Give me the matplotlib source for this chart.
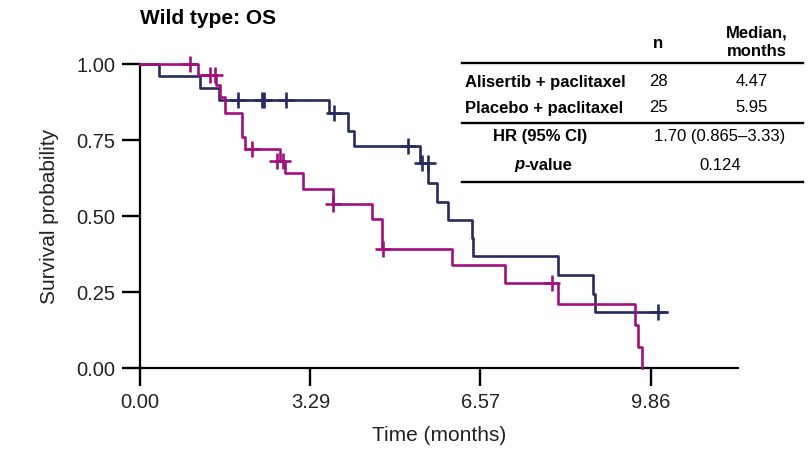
import matplotlib.pyplot as plt
from matplotlib.lines import Line2D

plt.rcParams['font.family'] = ['Liberation Sans', 'DejaVu Sans']

# Placebo + paclitaxel (navy) - step curve
placebo_t = [0, 0.37, 1.16, 1.52, 3.65, 4.01, 4.13, 5.40, 5.56, 5.73, 5.94,
             6.41, 6.43, 8.06, 8.74, 8.78, 10.17]
placebo_s = [1.0, 0.96, 0.92, 0.88, 0.84, 0.78, 0.73, 0.675, 0.61, 0.545,
             0.487, 0.428, 0.37, 0.305, 0.245, 0.185, 0.185]
placebo_cens_t = [1.89, 2.35, 2.39, 2.82, 3.74, 5.17, 5.45, 5.55, 10.0]
placebo_cens_s = [0.88, 0.88, 0.88, 0.88, 0.84, 0.73, 0.675, 0.675, 0.185]

# Alisertib + paclitaxel (magenta)
alisertib_t = [0, 1.12, 1.47, 1.55, 1.64, 1.97, 2.03, 2.70, 2.80, 3.14, 3.72,
               4.48, 4.67, 6.02, 7.04, 8.06, 9.55, 9.61, 9.69]
alisertib_s = [1.0, 0.964, 0.93, 0.89, 0.84, 0.76, 0.72, 0.68, 0.64, 0.59,
               0.54, 0.49, 0.39, 0.34, 0.28, 0.21, 0.14, 0.07, 0.0]
alisertib_cens_t = [0.96, 1.35, 1.45, 2.16, 2.64, 2.76, 3.72, 4.69, 7.95]
alisertib_cens_s = [1.0, 0.964, 0.964, 0.72, 0.68, 0.68, 0.54, 0.39, 0.28]

xticks = [0.00, 3.29, 6.57, 9.86]
yticks = [0.00, 0.25, 0.50, 0.75, 1.00]

navy = '#262b5e'
magenta = '#a1107f'

W, H = 810, 458
fig = plt.figure(figsize=(W / 100, H / 100), dpi=100)
ax = fig.add_axes([140 / W, 1 - 368 / H, (738 - 140) / W, (368 - 64) / H])

for t, s, ct, cs, col in [(placebo_t, placebo_s, placebo_cens_t, placebo_cens_s, navy),
                          (alisertib_t, alisertib_s, alisertib_cens_t, alisertib_cens_s, magenta)]:
    ax.step(t, s, where='post', color=col, lw=1.9, clip_on=False, zorder=3)
    ax.plot(ct, cs, ls='none', marker='+', ms=12, mew=1.9, color=col,
            clip_on=False, zorder=4)

ax.set_xlim(0, 11.54)
ax.set_ylim(0, 1.0)
ax.set_xticks(xticks)
ax.set_xticklabels(['%.2f' % v for v in xticks])
ax.set_yticks(yticks)
ax.set_yticklabels(['%.2f' % v for v in yticks])
ax.tick_params(length=13, width=1.7, labelsize=14.5, pad=5, colors='black')
ax.tick_params(axis='x', labelcolor='#222222')
ax.tick_params(axis='y', labelcolor='#222222')
for side in ['top', 'right']:
    ax.spines[side].set_visible(False)
for side in ['left', 'bottom']:
    ax.spines[side].set_linewidth(1.6)

ax.set_xlabel('Time (months)', fontsize=15, color='#222222', labelpad=10)
ax.set_ylabel('Survival probability', fontsize=15, color='#222222', labelpad=12)

fig.text(140 / W, 1 - 18 / H, 'Wild type: OS', fontsize=15, fontweight='bold',
         ha='left', va='center')


def ftext(x, y, s, **kw):
    fig.text(x / W, 1 - y / H, s, fontsize=12, va='center', **kw)


def fline(x0, x1, y):
    fig.add_artist(Line2D([x0 / W, x1 / W], [1 - y / H, 1 - y / H],
                          transform=fig.transFigure, color='black', lw=1.7))


ftext(658, 44, 'n', ha='center', fontweight='bold')
ftext(757, 33, 'Median,', ha='center', fontweight='bold')
ftext(757, 52, 'months', ha='center', fontweight='bold')
fline(462, 803, 63)
ftext(465, 82, 'Alisertib + paclitaxel', ha='left', fontweight='bold')
ftext(649, 82, '28', ha='left')
ftext(752, 82, '4.47', ha='center')
ftext(465, 108, 'Placebo + paclitaxel', ha='left', fontweight='bold')
ftext(649, 108, '25', ha='left')
ftext(752, 108, '5.95', ha='center')
fline(462, 803, 123)
ftext(540, 137, 'HR (95% CI)', ha='center', fontweight='bold')
ftext(720, 137, '1.70 (0.865\u20133.33)', ha='center')
ftext(524, 165, 'p', ha='right', fontweight='bold', fontstyle='italic')
ftext(524, 165, '-value', ha='left', fontweight='bold')
ftext(720, 165, '0.124', ha='center')
fline(462, 803, 182)

fig.savefig('out.png', dpi=100)
